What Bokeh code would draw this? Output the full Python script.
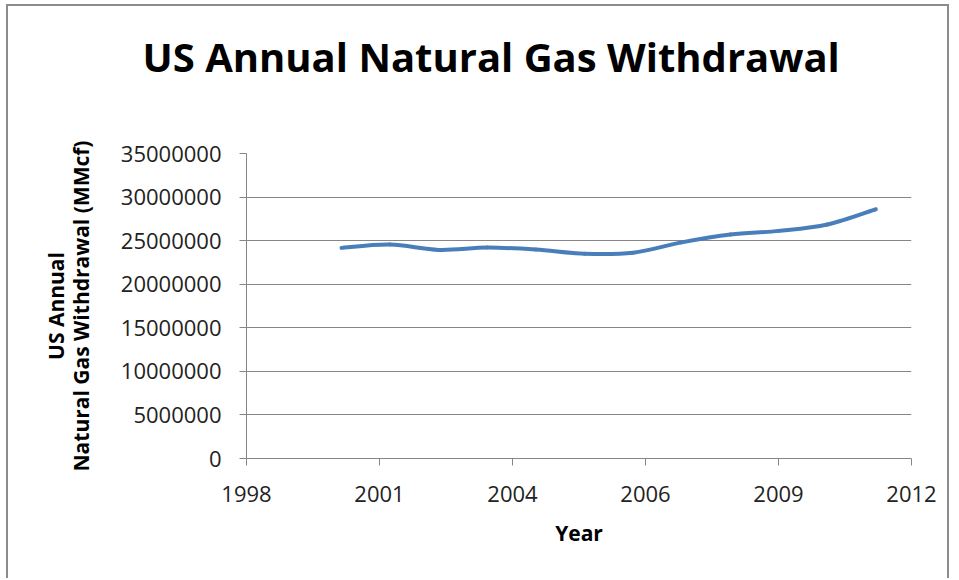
from bokeh.plotting import figure
from bokeh.models import Range1d, FixedTicker, BasicTickFormatter
from bokeh.embed import file_html
from bokeh.resources import INLINE

# US gross natural gas withdrawals, MMcf
year_x = [2000.0, 2001.02, 2002.05, 2003.07, 2004.09, 2005.12,
          2006.14, 2007.16, 2008.19, 2009.21, 2010.23, 2011.25]
withdrawal = [24170000, 24550000, 23940000, 24200000, 23980000, 23500000,
              23620000, 24800000, 25700000, 26120000, 26850000, 28600000]

x_ticks = [1998, 2000.8, 2003.6, 2006.4, 2009.2, 2012]
x_tick_labels = ["1998", "2001", "2004", "2006", "2009", "2012"]
y_ticks = [0, 5000000, 10000000, 15000000, 20000000, 25000000, 30000000, 35000000]

FONT = "Open Sans"
GRAY = "#868686"
BLUE = "#4a7ebb"

p = figure(width=943, height=574, output_backend="svg", toolbar_location=None,
           x_range=Range1d(1998, 2012), y_range=Range1d(0, 35000000),
           min_border_left=238, min_border_right=40,
           min_border_top=147, min_border_bottom=122,
           title="US Annual Natural Gas Withdrawal",
           styles={"margin-left": "6px", "margin-top": "4px",
                   "border-left": "2px solid #8c8c8c",
                   "border-top": "2px solid #8c8c8c",
                   "border-right": "2px solid #8c8c8c"})

p.background_fill_color = "white"
p.border_fill_color = "white"
p.outline_line_color = None

# title sits well above the plot area: bottom padding lifts it
p.title.align = "left"
p.title.offset = -104
p.title.standoff = 10
p.title.padding = dict(left=0, right=0, top=0, bottom=65)
p.title.text_font = FONT
p.title.text_font_style = "bold"
p.title.text_font_size = "40px"
p.title.text_color = "black"

# axes
xax, yax = p.below[0], p.left[0]
xax.ticker = FixedTicker(ticks=x_ticks)
xax.major_label_overrides = dict(zip(x_ticks, x_tick_labels))
yax.ticker = FixedTicker(ticks=y_ticks)
yax.formatter = BasicTickFormatter(use_scientific=False)

for ax in (xax, yax):
    ax.axis_line_color = GRAY
    ax.major_tick_line_color = GRAY
    ax.major_tick_out = 7
    ax.major_tick_in = 0
    ax.minor_tick_line_color = None
    ax.major_label_text_font = FONT
    ax.major_label_text_font_size = "22px"
    ax.major_label_text_color = "#222222"
    ax.axis_label_text_font = FONT
    ax.axis_label_text_font_style = "bold"
    ax.axis_label_text_font_size = "21px"
    ax.axis_label_text_color = "black"
    ax.axis_label_text_line_height = 0.88

xax.major_label_standoff = 20
yax.major_label_standoff = 18
xax.axis_label_standoff = 14
yax.axis_label_standoff = 23

xax.axis_label = "Year"
yax.axis_label = "US Annual\nNatural Gas Withdrawal (MMcf)"

p.xgrid.grid_line_color = None
p.ygrid.grid_line_color = GRAY
p.ygrid.grid_line_width = 1

# smoothed line: cubic Bezier segments through each pair of points
n = len(year_x)
x0, y0, x1, y1, cx0, cy0, cx1, cy1 = ([] for _ in range(8))
for i in range(n - 1):
    xp, yp = year_x[max(i - 1, 0)], withdrawal[max(i - 1, 0)]
    xa, ya = year_x[i], withdrawal[i]
    xb, yb = year_x[i + 1], withdrawal[i + 1]
    xn, yn = year_x[min(i + 2, n - 1)], withdrawal[min(i + 2, n - 1)]
    x0.append(xa); y0.append(ya); x1.append(xb); y1.append(yb)
    cx0.append(xa + (xb - xp) / 6); cy0.append(ya + (yb - yp) / 6)
    cx1.append(xb - (xn - xa) / 6); cy1.append(yb - (yn - ya) / 6)

p.bezier(x0=x0, y0=y0, x1=x1, y1=y1, cx0=cx0, cy0=cy0, cx1=cx1, cy1=cy1,
         line_color=BLUE, line_width=4, line_cap="round")

open("out.html", "w").write(file_html(p, INLINE))
